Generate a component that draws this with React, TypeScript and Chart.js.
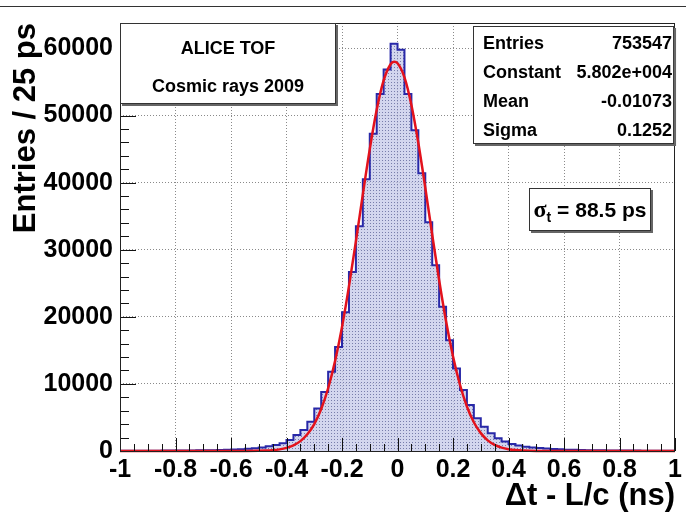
import React, { useEffect, useRef } from 'react';
import { Chart, registerables } from 'chart.js';
Chart.register(...registerables);

// ---- data ----
const binStart = -1;
const binWidth = 0.025;
const binCounts = [
  40, 45, 40, 50, 55, 50, 60, 65, 70, 80,
  90, 100, 115, 130, 150, 175, 210, 250, 320, 420,
  540, 700, 900, 1150, 1640, 2380, 3125, 4370, 6350, 8800,
  11800, 15500, 20700, 26700, 33500, 40500, 47300, 53200, 56850, 60700,
  59800, 53200, 47800, 41400, 34100, 27700, 21500, 16500, 12300, 9080,
  6850, 4870, 3620, 2630, 1890, 1400, 1050, 820, 650, 520,
  430, 360, 300, 250, 200, 170, 150, 130, 115, 100,
  90, 80, 70, 65, 60, 55, 50, 45, 45, 40,
];
const fitX = [
  -1, -0.6, -0.55, -0.5, -0.475, -0.45, -0.425, -0.4, -0.375, -0.35, -0.325, -0.3,
  -0.275, -0.25, -0.225, -0.2, -0.175, -0.15, -0.125, -0.1, -0.075, -0.05, -0.025,
  -0.0125, 0, 0.025, 0.05, 0.075, 0.1, 0.125, 0.15, 0.175, 0.2, 0.225, 0.25, 0.275,
  0.3, 0.325, 0.35, 0.375, 0.4, 0.425, 0.45, 0.475, 0.5, 0.55, 0.6, 1,
];
const fitY = [
  0, 1, 6, 28, 60, 123, 243, 461, 840, 1473, 2485, 4020,
  6260, 9350, 13420, 18490, 24540, 31240, 38260, 45000, 50860, 55235, 57644,
  58010, 57807, 55700, 51580, 45900, 39250, 32230, 25460, 19290, 14090, 9870, 6640, 4290,
  2665, 1590, 912, 503, 266, 136, 66, 31, 14, 3, 0, 0,
];
const xTickValues = [-1, -0.8, -0.6, -0.4, -0.2, 0, 0.2, 0.4, 0.6, 0.8, 1];
const xTickLabels = ['-1', '-0.8', '-0.6', '-0.4', '-0.2', '0', '0.2', '0.4', '0.6', '0.8', '1'];
const yTickValues = [0, 10000, 20000, 30000, 40000, 50000, 60000];
const yTickLabels = ['0', '10000', '20000', '30000', '40000', '50000', '60000'];
const xMin = -1;
const xMax = 1;
const yMax = 63800;
const statLabels = ['Entries', 'Constant', 'Mean', 'Sigma'];
const statValues = ['753547', '5.802e+004', '-0.01073', '0.1252'];
const paveLines = ['ALICE TOF', 'Cosmic rays 2009'];
const sigmaSymbol = 'σ';
const sigmaSub = 't';
const sigmaText = ' = 88.5 ps';
const yTitle = 'Entries / 25 ps';
const xTitle = 'Δt - L/c (ns)';

const SANS = "'Liberation Sans', Arial, Helvetica, sans-serif";

function makePattern(): CanvasPattern | string {
  const c = document.createElement('canvas');
  c.width = 3;
  c.height = 3;
  const g = c.getContext('2d');
  if (!g) return 'rgba(190,195,230,0.6)';
  g.fillStyle = 'rgba(196,200,232,0.75)';
  g.fillRect(0, 0, 3, 3);
  g.fillStyle = 'rgba(105,110,160,0.85)';
  g.fillRect(1, 1, 1, 1);
  const p = g.createPattern(c, 'repeat');
  return p || 'rgba(190,195,230,0.6)';
}

function pave(ctx: CanvasRenderingContext2D, x1: number, y1: number, x2: number, y2: number) {
  ctx.save();
  ctx.setLineDash([]);
  ctx.fillStyle = '#666';
  ctx.fillRect(x1 + 2, y1 + 2, x2 - x1, y2 - y1);
  ctx.fillStyle = '#fff';
  ctx.fillRect(x1, y1, x2 - x1, y2 - y1);
  ctx.strokeStyle = '#333';
  ctx.lineWidth = 1;
  ctx.strokeRect(x1 + 0.5, y1 + 0.5, x2 - x1 - 1, y2 - y1 - 1);
  ctx.restore();
}

const overlayPlugin = {
  id: 'rootOverlay',
  afterDatasetsDraw(chart: any) {
    const ctx: CanvasRenderingContext2D = chart.ctx;
    const xs = chart.scales.x;
    const ys = chart.scales.y;
    const a = chart.chartArea;
    ctx.save();
    ctx.setLineDash([]);
    ctx.strokeStyle = '#111';
    ctx.lineWidth = 1;
    // x ticks inside frame
    for (let k = 0; k <= 40; k++) {
      const v = xMin + k * 0.05;
      const px = Math.round(xs.getPixelForValue(v)) + 0.5;
      const major = k % 4 === 0;
      ctx.beginPath();
      ctx.moveTo(px, a.bottom);
      ctx.lineTo(px, a.bottom - (major ? 13 : 7));
      ctx.stroke();
    }
    // y ticks inside frame
    for (let k = 0; k <= 31; k++) {
      const v = k * 2000;
      const py = Math.round(ys.getPixelForValue(v)) + 0.5;
      const major = k % 5 === 0;
      ctx.beginPath();
      ctx.moveTo(a.left, py);
      ctx.lineTo(a.left + (major ? 16 : 9), py);
      ctx.stroke();
    }
    // frame
    ctx.strokeStyle = '#222';
    ctx.strokeRect(Math.round(a.left) + 0.5, Math.round(a.top) + 0.5, Math.round(a.right - a.left) - 1, Math.round(a.bottom - a.top));
    ctx.restore();
  },
  afterDraw(chart: any) {
    const ctx: CanvasRenderingContext2D = chart.ctx;
    const a = chart.chartArea;
    ctx.save();
    ctx.setLineDash([]);
    // top border line of picture
    ctx.strokeStyle = '#333';
    ctx.lineWidth = 1;
    ctx.beginPath();
    ctx.moveTo(0, 6.5);
    ctx.lineTo(chart.width, 6.5);
    ctx.stroke();

    // title pave
    const p1x1 = a.left, p1y1 = a.top, p1x2 = 336, p1y2 = 104;
    pave(ctx, p1x1, p1y1, p1x2, p1y2);
    ctx.fillStyle = '#000';
    ctx.font = `bold 18px ${SANS}`;
    ctx.textAlign = 'center';
    ctx.textBaseline = 'middle';
    const cx = (p1x1 + p1x2) / 2;
    ctx.fillText(paveLines[0], cx, 49);
    ctx.fillText(paveLines[1], cx, 87);

    // stats box
    const sx1 = 473, sy1 = 26, sx2 = a.right - 1, sy2 = 144;
    pave(ctx, sx1, sy1, sx2, sy2);
    ctx.fillStyle = '#000';
    ctx.font = `bold 18px ${SANS}`;
    const rowY = [44, 73, 102, 131];
    for (let i = 0; i < statLabels.length; i++) {
      ctx.textAlign = 'left';
      ctx.fillText(statLabels[i], 483, rowY[i]);
      ctx.textAlign = 'right';
      ctx.fillText(statValues[i], 672, rowY[i]);
    }

    // sigma box
    const bx1 = 529, by1 = 188, bx2 = 651, by2 = 231;
    pave(ctx, bx1, by1, bx2, by2);
    const fSym = "bold 24px 'Liberation Serif', 'DejaVu Serif', serif";
    const fSub = `bold 14px ${SANS}`;
    const fMain = `bold 21px ${SANS}`;
    ctx.textAlign = 'left';
    ctx.textBaseline = 'alphabetic';
    ctx.font = fSym;
    const w1 = ctx.measureText(sigmaSymbol).width;
    ctx.font = fSub;
    const w2 = ctx.measureText(sigmaSub).width;
    ctx.font = fMain;
    const w3 = ctx.measureText(sigmaText).width;
    let tx = (bx1 + bx2) / 2 - (w1 + w2 + w3) / 2;
    const base = 217;
    ctx.fillStyle = '#000';
    ctx.font = fSym;
    ctx.fillText(sigmaSymbol, tx, base);
    tx += w1;
    ctx.font = fSub;
    ctx.fillText(sigmaSub, tx, base + 5);
    tx += w2;
    ctx.font = fMain;
    ctx.fillText(sigmaText, tx, base);
    ctx.restore();
  },
};

export default function App() {
  const ref = useRef<HTMLCanvasElement | null>(null);
  useEffect(() => {
    if (!ref.current) return;
    const histPoints = binCounts.map((c, i) => ({ x: binStart + i * binWidth, y: c }));
    histPoints.push({ x: xMax, y: binCounts[binCounts.length - 1] });
    const fitPoints = fitX.map((x, i) => ({ x, y: fitY[i] }));
    const chart = new Chart(ref.current, {
      type: 'line',
      data: {
        datasets: [
          {
            label: 'fit',
            data: fitPoints,
            borderColor: '#e3121c',
            borderWidth: 2.5,
            pointRadius: 0,
            fill: false,
            cubicInterpolationMode: 'monotone',
            order: 0,
            clip: false,
          } as any,
          {
            label: 'hist',
            data: histPoints,
            stepped: 'before',
            borderColor: '#2828a8',
            borderWidth: 2,
            pointRadius: 0,
            fill: 'origin',
            backgroundColor: makePattern(),
            order: 1,
          } as any,
        ],
      },
      options: {
        animation: false,
        responsive: false,
        events: [],
        layout: { padding: { top: 23, right: 5, left: 0, bottom: 0 } },
        plugins: { legend: { display: false }, tooltip: { enabled: false } },
        scales: {
          x: {
            type: 'linear',
            min: xMin,
            max: xMax,
            afterFit: (s: any) => { s.height = 66; },
            afterBuildTicks: (s: any) => { s.ticks = xTickValues.map((v) => ({ value: v })); },
            ticks: {
              autoSkip: false,
              color: '#000',
              padding: 4,
              maxRotation: 0,
              minRotation: 0,
              font: { family: SANS, size: 25, weight: 'bold' },
              callback: (_v: any, i: number) => xTickLabels[i],
            },
            grid: {
              color: (c: any) => (c.index === 0 || c.index === xTickValues.length - 1 ? 'rgba(0,0,0,0)' : '#8a8a8a'),
              drawTicks: false,
              lineWidth: 1,
            },
            border: { display: false, dash: [1, 2] },
            title: {
              display: true,
              text: xTitle,
              align: 'end',
              color: '#000',
              font: { family: SANS, size: 31, weight: 'bold' },
              padding: { top: 0, bottom: 2 },
            },
          },
          y: {
            type: 'linear',
            min: 0,
            max: yMax,
            afterFit: (s: any) => { s.width = 120; },
            afterBuildTicks: (s: any) => { s.ticks = yTickValues.map((v) => ({ value: v })); },
            ticks: {
              autoSkip: false,
              color: '#000',
              padding: 7,
              font: { family: SANS, size: 25, weight: 'bold' },
              callback: (_v: any, i: number) => yTickLabels[i],
            },
            grid: {
              color: (c: any) => (c.index === 0 ? 'rgba(0,0,0,0)' : '#8a8a8a'),
              drawTicks: false,
              lineWidth: 1,
            },
            border: { display: false, dash: [1, 2] },
            title: {
              display: true,
              text: yTitle,
              align: 'end',
              color: '#000',
              font: { family: SANS, size: 31, weight: 'bold' },
              padding: { top: 8, bottom: 0 },
            },
          },
        },
      } as any,
      plugins: [overlayPlugin],
    });
    return () => chart.destroy();
  }, []);
  return (
    <div style={{ position: 'fixed', left: 0, top: 0, width: 686, height: 517, background: '#fff' }}>
      <canvas ref={ref} width={686} height={517} style={{ display: 'block' }} />
    </div>
  );
}
